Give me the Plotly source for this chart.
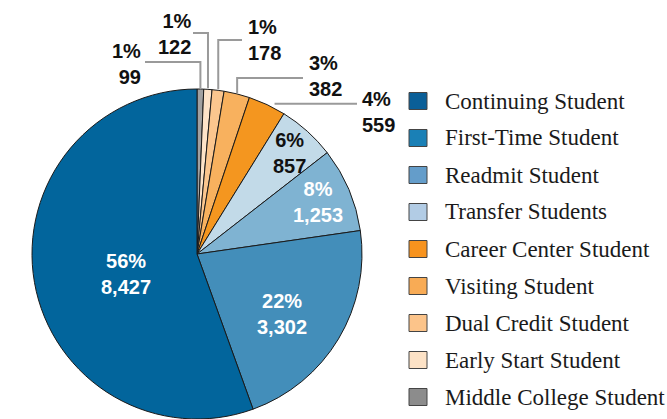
import math
import plotly.graph_objects as go

# ---------------- data ----------------
categories = [
    "Continuing Student", "First-Time Student", "Readmit Student",
    "Transfer Students", "Career Center Student", "Visiting Student",
    "Dual Credit Student", "Early Start Student", "Middle College Student",
]
counts = [8427, 3302, 1253, 857, 559, 382, 178, 122, 99]
pct_labels = ["56%", "22%", "8%", "6%", "4%", "3%", "1%", "1%", "1%"]
count_labels = ["8,427", "3,302", "1,253", "857", "559", "382", "178", "122", "99"]

# ---------------- style ----------------
slice_colors = ["#02659c", "#438eba", "#7fb3d2", "#c2dae8", "#f4961f",
                "#f8b15e", "#fbc68e", "#fde3c8", "#a1a1a1"]
legend_colors = ["#0a5f98", "#1a80b6", "#649dca", "#b2cce5", "#f7931e",
                 "#f8ab55", "#fcc48a", "#fde2c6", "#8c8c8c"]

W, H = 667, 419
CX, CY, R = 197, 254, 165  # pixel geometry of the pie

def px(x):
    return x / W

def py(y):
    return 1 - y / H

# Slices run counterclockwise from 12 o'clock in the reference; plotting the
# reversed order clockwise from 12 o'clock gives the same arrangement.
fig = go.Figure(go.Pie(
    values=counts[::-1], labels=categories[::-1], sort=False,
    direction="clockwise", rotation=0,
    marker=dict(colors=slice_colors[::-1], line=dict(color="#1a1a1a", width=1)),
    textinfo="none", hoverinfo="label+value+percent", showlegend=False,
    domain=dict(x=[(CX - R) / W, (CX + R) / W], y=[0, 2 * R / H]),
))

total = sum(counts)
mids = []
cum = 0
for v in counts:
    mids.append(90 + 360 * (cum + v / 2) / total)
    cum += v

label_font = dict(family="Liberation Sans, Arial, sans-serif", size=20)

# inside labels: (radius fraction, angle nudge, colour)
inside_style = {0: (0.45, 6, "white"), 1: (0.63, -4.5, "white"),
                2: (0.80, 0, "white"), 3: (0.83, -0.5, "#111111")}
annotations = []
for i, (rf, dang, col) in inside_style.items():
    a = math.radians(mids[i] + dang)
    x = CX + rf * R * math.cos(a)
    y = CY - rf * R * math.sin(a)
    annotations.append(dict(
        x=px(x), y=py(y), xref="paper", yref="paper", showarrow=False,
        text=f"<b>{pct_labels[i]}<br>{count_labels[i]}</b>",
        font=dict(color=col, **label_font), xanchor="center", yanchor="middle"))

# outside labels with elbow leader lines
# (kind, elbow_y, end_x, text_x, text_anchor, text_y)
outside_style = {
    4: ("h", None, 357, 360, "left", 112),
    5: ("v", 78, 303, 307, "left", 76),
    6: ("v", 40, 242, 246, "left", 40),
    7: ("v", 33, 193, 194, "right", 34),
    8: ("v", 62, 145, 143, "right", 64),
}
shapes = []
for i, (kind, ey, ex, tx, anc, ty) in outside_style.items():
    a = math.radians(mids[i])
    sx = CX + (R + 1) * math.cos(a)
    sy = CY - (R + 1) * math.sin(a)
    if kind == "h":
        path = f"M{px(sx + 7)},{py(sy)} L{px(ex)},{py(sy)}"
    else:
        path = f"M{px(sx)},{py(sy)} L{px(sx)},{py(ey)} L{px(ex)},{py(ey)}"
    shapes.append(dict(type="path", path=path, xref="paper", yref="paper",
                       line=dict(color="#9a9a9a", width=2)))
    annotations.append(dict(
        x=px(tx), y=py(ty), xref="paper", yref="paper", showarrow=False,
        text=f"<b>{pct_labels[i]}<br>{count_labels[i]}</b>", align=anc,
        font=dict(color="#111111", **label_font), xanchor=anc, yanchor="middle"))

# manual legend
LX0, LX1, LTX, LY0, LDY = 409, 427, 443, 101, 37
for i, name in enumerate(categories):
    yc = LY0 + LDY * i
    shapes.append(dict(type="rect", xref="paper", yref="paper",
                       x0=px(LX0), x1=px(LX1), y0=py(yc - 8.5), y1=py(yc + 8.5),
                       fillcolor=legend_colors[i], line=dict(color="#444444", width=1)))
    annotations.append(dict(
        x=px(LTX), y=py(yc), xref="paper", yref="paper", showarrow=False,
        text=name, xanchor="left", yanchor="middle",
        font=dict(family="Liberation Serif, Times New Roman, serif", size=23,
                  color="#1a1a1a")))

fig.update_layout(
    width=W, height=H, margin=dict(l=0, r=0, t=0, b=0),
    paper_bgcolor="white", plot_bgcolor="white",
    shapes=shapes, annotations=annotations,
)

fig.write_html("out.html", config={"displayModeBar": False},
               post_script="document.body.style.margin='0';")
